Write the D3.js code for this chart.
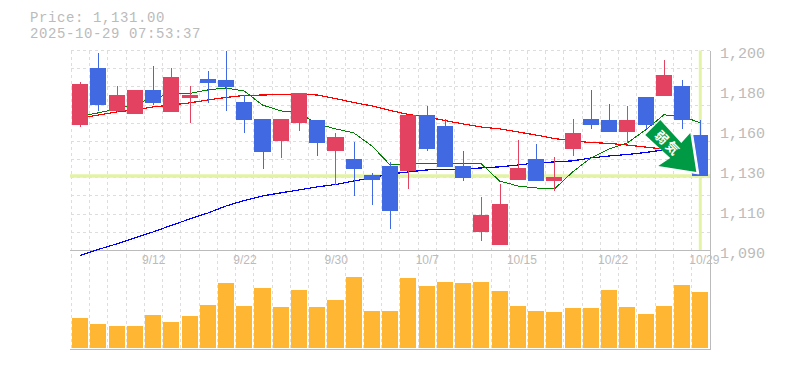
<!DOCTYPE html>
<html lang="ja">
<head>
    <meta charset="UTF-8">
    <title>Price chart</title>
    <style>
        html,body{margin:0;padding:0;background:#fff;}
        svg{display:block;}
        .price-title{font-family:"Liberation Mono",monospace;font-size:14px;letter-spacing:0.6px;fill:#bbb;}
        .axis-y text{font-family:"Liberation Mono",monospace;font-size:15px;fill:#bbb;}
        .axis-x text{font-family:"Liberation Sans",sans-serif;font-size:12px;fill:#bbb;}
        .grid line{stroke:#ddd;stroke-width:1;stroke-dasharray:3 3;shape-rendering:crispEdges;}
        .frame{stroke:#bbb;stroke-width:1;shape-rendering:crispEdges;fill:none;}
        .ma{fill:none;shape-rendering:crispEdges;}
    </style>
    <script src="https://cdn.jsdelivr.net/npm/d3@7"></script>
</head>
<body>
<script>
    var days = ["9/8","9/9","9/10","9/11","9/12","9/16","9/17","9/18","9/19","9/22","9/24","9/25","9/26","9/29","9/30",
        "10/1","10/2","10/3","10/6","10/7","10/8","10/9","10/10","10/14","10/15","10/16","10/17","10/20","10/21","10/22",
        "10/23","10/24","10/27","10/28","10/29"];
    var dayLabels = ["9/12","9/22","9/30","10/7","10/15","10/22","10/29"];
    var opens = [1159,1190.4,1166.8,1165.1,1178.3,1166.2,1173.9,1184.3,1183.8,1171.7,1162.4,1150.3,1160.2,1161.8,1144.8,
        1140.4,1131.5,1136.5,1133.8,1164.5,1158.5,1136.5,1100.2,1093,1128.8,1140.4,1128.2,1145.9,1162.4,1161.8,
        1155.2,1174.5,1175,1180.5,1153.5];
    var highs = [1182.7,1198.6,1180.5,1178.3,1191.5,1190.4,1180.5,1188.7,1199.8,1175.5,1162.4,1162.4,1176.6,1161.8,1154.7,
        1149.7,1132.7,1138.7,1164.5,1169.5,1162.4,1144.8,1119.5,1126.6,1150.8,1148.6,1141.5,1162.4,1178.3,1170.6,
        1169.5,1174.5,1194.8,1183.8,1161.8];
    var lows = [1157.9,1166.8,1166.2,1165.1,1170,1166.2,1160.2,1171,1166.8,1154.7,1134.8,1140.9,1155.8,1142,1126,
        1120,1115,1101.9,1123.8,1144.8,1136,1128.2,1095.3,1093,1128.8,1128.2,1122.7,1142,1156.9,1155.2,
        1149.2,1156.9,1175,1156.9,1131];
    var closes = [1181.6,1170,1175.5,1178.3,1171,1185.5,1175.5,1182.2,1180,1161.8,1144.2,1162.4,1176.6,1149.2,1152.5,
        1134.8,1128.8,1111.8,1164.5,1145.9,1136,1129.9,1109.6,1115.6,1135.4,1128.2,1130.5,1154.7,1159,1155.2,
        1161.8,1159,1186.5,1161.8,1131];
    var maShort = [1164,1165.7,1167.9,1170.6,1173.9,1176.1,1176.4,1178.3,1179.4,1177.7,1170,1166.8,1165.7,1159.6,1156.9,
        1154.7,1147.5,1137,1138.1,1137.6,1138.1,1137.9,1137.6,1128.2,1125.5,1124.4,1123.8,1133.2,1140.9,1145.9,
        1149.2,1156.3,1164.6,1164,1160.1];
    var maMiddle = [1162.9,1164.5,1166.2,1167.3,1169,1170,1171.2,1172.8,1174.2,1175.3,1175.5,1175.8,1176.1,1175.5,1173.6,
        1171.4,1169.5,1167,1164.8,1163.4,1161.5,1159.6,1157.9,1156.9,1155.2,1153.5,1151.6,1150.3,1149.4,1148.9,
        1148,1146.9,1145.8,1145.6,1145.3];
    var maLong = [1087.2,1090.6,1093.6,1096.9,1100.2,1103.8,1107.3,1110.6,1114.5,1117.5,1120,1121.7,1123.3,1125,1126.3,
        1128.2,1129.9,1132.1,1133.2,1134.3,1134.6,1134.9,1135.4,1136,1137,1138.2,1138.7,1139.3,1140.9,1142,
        1142.8,1143.9,1145.3,1145.8,1146.4];
    var volumes = [30,24,22,22,33,26,32,43,65,42,60,41,58,41,48,71,37,37,
        70,62,66,65,66,57,42,37,36,40,40,58,41,34,42,63,56];
    var priceTicks = [1200,1178,1156,1134,1112,1090];
    var lastPrice = 1131;

    var w = 785,
        h = 370,
        svg = d3.select('body').append('svg').attr('width',w).attr('height',h),
        xScale = d3.scaleBand().domain(days).range([71,709.4]).paddingInner(0.12).paddingOuter(0.06),
        yScale = d3.scaleLinear().domain([1090,1200]).range([250.5,50.5]),
        volScale = d3.scaleLinear().domain([0,100]).range([348,248]),
        mid = function(d){ return xScale(d) + xScale.bandwidth()/2; },
        step = xScale.step(),
        plotLeft = 71, plotRight = 710, plotTop = 50.5, plotBottom = 250.5, volBottom = 349.5;

    //grid
    var grid = svg.append('g').attr('class','grid');
    grid.selectAll('.v').data(days).enter().append('line')
        .attr('class','v')
        .attr('x1',function(d){ return Math.round(xScale(d) - step*0.06) + 0.5; })
        .attr('x2',function(d){ return Math.round(xScale(d) - step*0.06) + 0.5; })
        .attr('y1',plotTop).attr('y2',volBottom);
    grid.selectAll('.h').data(d3.range(1100,1201,10)).enter().append('line')
        .attr('class','h')
        .attr('x1',plotLeft).attr('x2',plotRight)
        .attr('y1',function(d){ return yScale(d); })
        .attr('y2',function(d){ return yScale(d); });

    //current price cross
    var lastDay = days[days.length-1];
    svg.append('line').attr('x1',plotLeft-1).attr('x2',plotRight)
        .attr('y1',yScale(lastPrice)).attr('y2',yScale(lastPrice))
        .attr('stroke','#e3f3a6').attr('stroke-width',3.5);
    svg.append('line').attr('x1',mid(lastDay)).attr('x2',mid(lastDay))
        .attr('y1',plotTop).attr('y2',plotBottom)
        .attr('stroke','#e3f3a6').attr('stroke-width',3);

    //frame
    svg.append('path').attr('class','frame')
        .attr('d','M'+(plotLeft-1)+','+plotBottom+'H'+(plotRight+0.5)+'M'+(plotRight+0.5)+','+plotTop+'V'+volBottom+'M'+(plotLeft-1)+','+volBottom+'H'+(plotRight+0.5));

    //moving averages
    var maLine = d3.line().x(function(d,i){ return mid(days[i]); }).y(function(d){ return yScale(d); });
    [[maLong,'#0000ff',1.2],[maMiddle,'#ff0000',1.2],[maShort,'#008000',1]].forEach(function(s){
        svg.append('path').attr('class','ma').attr('stroke',s[1]).attr('stroke-width',s[2]).attr('d',maLine(s[0]));
    });

    //candles
    var upColor = '#e34360', downColor = '#4169e1';
    var candles = svg.append('g').attr('shape-rendering','crispEdges').selectAll('g').data(days).enter().append('g')
        .attr('fill',function(d,i){ return closes[i] >= opens[i] ? upColor : downColor; });
    candles.append('rect')
        .attr('x',function(d){ return Math.round(mid(d)) - 0.5; })
        .attr('width',1)
        .attr('y',function(d,i){ return yScale(highs[i]); })
        .attr('height',function(d,i){ return yScale(lows[i]) - yScale(highs[i]); });
    candles.append('rect')
        .attr('x',function(d){ return xScale(d); })
        .attr('width',xScale.bandwidth())
        .attr('y',function(d,i){ return yScale(Math.max(opens[i],closes[i])); })
        .attr('height',function(d,i){ return Math.max(1,Math.abs(yScale(opens[i]) - yScale(closes[i]))); });

    //volume
    svg.append('g').selectAll('rect').data(days).enter().append('rect')
        .attr('fill','#ffb733')
        .attr('shape-rendering','crispEdges')
        .attr('x',function(d){ return xScale(d); })
        .attr('width',xScale.bandwidth())
        .attr('y',function(d,i){ return volScale(volumes[i]); })
        .attr('height',function(d,i){ return volScale(0) - volScale(volumes[i]); });

    //axes
    var yAxis = d3.axisRight(yScale).tickValues(priceTicks).tickSize(0).tickPadding(0)
        .tickFormat(function(d){ return d3.format(',')(Math.round(d/10)*10); });
    svg.append('g').attr('class','axis-y').attr('transform','translate(720,2)').call(yAxis)
        .call(function(g){ g.select('.domain').remove(); });
    var xAxis = d3.axisBottom(xScale).tickValues(dayLabels).tickSize(0).tickPadding(0);
    svg.append('g').attr('class','axis-x').attr('transform','translate(0,255)').call(xAxis)
        .call(function(g){ g.select('.domain').remove(); })
        .selectAll('text').attr('text-anchor','start').attr('dx',-11);

    //title
    svg.append('text').attr('class','price-title').attr('x',30).attr('y',22)
        .text('Price: ' + d3.format(',.2f')(lastPrice));
    svg.append('text').attr('class','price-title').attr('x',30).attr('y',38)
        .text('2025-10-29 07:53:37');

    //sell signal arrow, hung on the last candle
    var arrowShape = 'M-40,-56L-55,-41L-30,-18L-42,-10L-4,-4L-10,-43L-19,-33Z';
    var arrow = svg.append('g').attr('transform','translate('+mid(lastDay)+','+yScale(lastPrice)+')');
    arrow.append('path').attr('d',arrowShape).attr('fill','#fff').attr('stroke','#fff').attr('stroke-width',1).attr('transform','translate(2.5,2)');
    arrow.append('path').attr('d',arrowShape).attr('fill','#009a44');
    arrow.append('text').attr('transform','translate(-32,-33) rotate(45)')
        .attr('text-anchor','middle').attr('dominant-baseline','central')
        .attr('font-family','"Noto Sans CJK JP"').attr('font-weight','bold').attr('font-size',13).attr('letter-spacing',2).attr('fill','#fff')
        .text('弱気');
</script>
</body>
</html>
